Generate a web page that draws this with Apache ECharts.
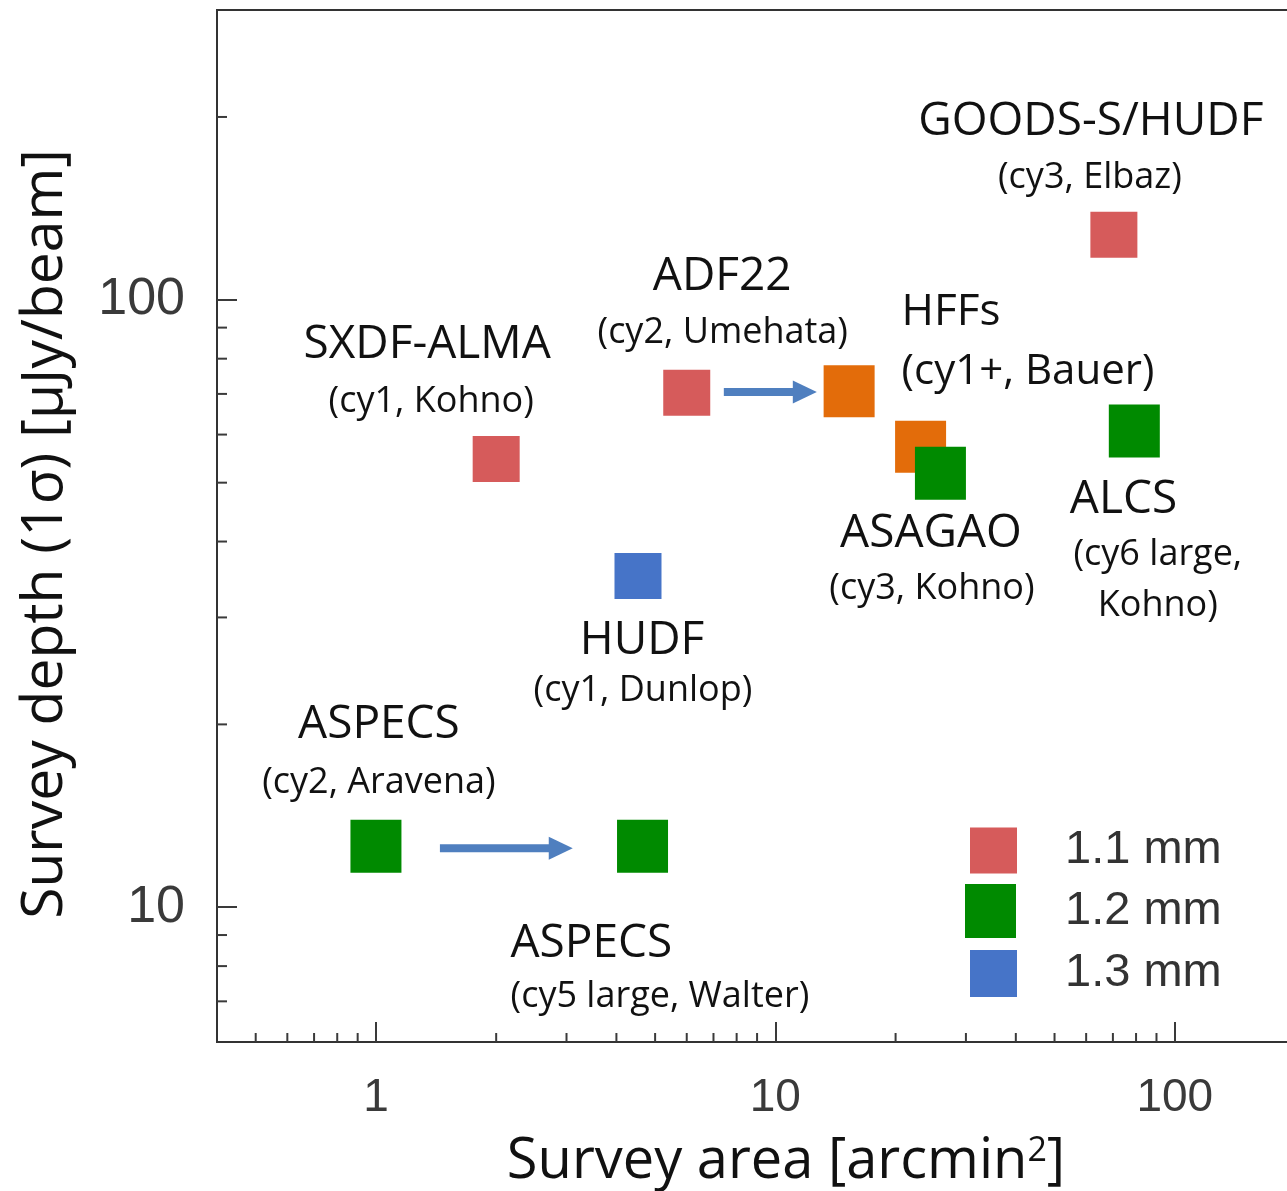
<!DOCTYPE html>
<html>
<head>
<meta charset="utf-8">
<title>ALMA deep surveys: area vs depth</title>
<script src="https://cdn.jsdelivr.net/npm/echarts@6/dist/echarts.min.js"></script>
<style>
  html, body { margin: 0; padding: 0; background: #ffffff; }
  #chart { width: 1287px; height: 1191px; }
</style>
</head>
<body>
<div id="chart"></div>
<script>
// ---- Survey data: area [arcmin^2] and 1-sigma depth [uJy/beam] ----
// 1.1 mm: SXDF-ALMA, ADF22, GOODS-S/HUDF
const mm11Area  = [2.0, 6.0, 70.4];
const mm11Depth = [54.7, 70.3, 128];
// 1.2 mm: ASAGAO, ALCS, ASPECS (cy2), ASPECS (cy5 large)
const mm12Area  = [25.9, 79.2, 1.0, 4.65];
const mm12Depth = [51.8, 60.8, 12.6, 12.6];
// 1.3 mm: HUDF
const mm13Area  = [4.53];
const mm13Depth = [35.1];
// HFFs (cy1+, Bauer)
const hffArea   = [15.3, 23.1];
const hffDepth  = [70.7, 57.3];

// Survey extensions drawn as arrows: area from -> arrow tip, at a depth
const arrowFromArea = [7.43, 1.446];
const arrowToArea   = [12.7, 3.11];
const arrowDepth    = [70.5, 12.51];

// Axis ranges and ticks
const X_MIN = 0.4, X_MAX = 200;
const Y_MIN = 6, Y_MAX = 300;
const xMinorTicks = [0.5, 0.6, 0.7, 0.8, 0.9, 2, 3, 4, 5, 6, 7, 8, 9, 20, 30, 40, 50, 60, 70, 80, 90];
const yMinorTicks = [7, 8, 9, 20, 30, 40, 50, 60, 70, 80, 90, 200];

// Legend entries
const bandNames = ['1.1 mm', '1.2 mm', '1.3 mm'];

// Survey annotations (title + programme), each attached to one marker
const labelTitles = ['SXDF-ALMA', 'ADF22', 'GOODS-S/HUDF', 'HFFs', 'ASAGAO', 'ALCS', 'HUDF', 'ASPECS', 'ASPECS'];
const labelNotes  = ['(cy1, Kohno)', '(cy2, Umehata)', '(cy3, Elbaz)', '(cy1+, Bauer)', '(cy3, Kohno)',
                     '(cy6 large,\nKohno)', '(cy1, Dunlop)', '(cy2, Aravena)', '(cy5 large, Walter)'];
const labelAnchorArea  = [mm11Area[0], mm11Area[1], mm11Area[2], hffArea[0], mm12Area[0], mm12Area[1], mm13Area[0], mm12Area[2], mm12Area[3]];
const labelAnchorDepth = [mm11Depth[0], mm11Depth[1], mm11Depth[2], hffDepth[0], mm12Depth[0], mm12Depth[1], mm13Depth[0], mm12Depth[2], mm12Depth[3]];

// ---- Styling / layout ----
const COLORS = { mm11: '#d65b5b', mm12: '#008a00', mm13: '#4674c8', hff: '#e36c0a', arrow: '#4f7fbf', axis: '#333333', tick: '#3a3a3a' };
const TEXT_FONT = '"Open Sans", "Noto Sans", sans-serif';
const NUM_FONT = '"Liberation Sans", Arial, sans-serif';

// pixel offsets of each annotation from its marker
const LABEL_LAYOUT = [
  { title: [-69, -114],  note: [-65, -57] },
  { title: [35.5, -116], note: [36, -60] },
  { title: [-23, -113],  note: [-24, -57] },
  { title: [52.5, -79],  note: [52.5, -19.5], titleAlign: 'left', noteAlign: 'left', titleSize: 44, noteSize: 42 },
  { title: [-9.5, 60.5], note: [-8.5, 115.5] },
  { title: [-64.5, 69],  note: [23.5, 149.5], titleAlign: 'left' },
  { title: [4, 65],      note: [5, 115] },
  { title: [3, -121],    note: [3, -64] },
  { title: [-132, 98],   note: [-132, 150],  titleAlign: 'left', noteAlign: 'left' }
];

function pairs(xs, ys) { return xs.map((x, i) => [x, ys[i]]); }

const chart = echarts.init(document.getElementById('chart'), null, { renderer: 'canvas' });

const option = {
  animation: false,
  backgroundColor: '#ffffff',
  grid: {
    left: 217, top: 10, width: 1078, height: 1032,
    containLabel: false, outerBoundsMode: 'none',
    show: true, borderColor: COLORS.axis, borderWidth: 2, backgroundColor: 'transparent'
  },
  legend: bandNames.map((name, i) => ({
    data: [name],
    selectedMode: false,
    orient: 'vertical',
    padding: 0,
    left: [970, 965, 970][i],
    top: [827, 884, 950][i],
    itemWidth: [47, 51, 47][i],
    itemHeight: [46, 54, 47][i],
    icon: 'rect',
    textStyle: { fontFamily: NUM_FONT, fontSize: 47, color: '#333333', padding: [0, 0, 0, [43, 44, 43][i]] }
  })),
  xAxis: {
    type: 'log', logBase: 10, min: X_MIN, max: X_MAX,
    name: 'Survey area [arcmin{sup|2}]',
    nameLocation: 'middle', nameGap: 92, nameMoveOverlap: false,
    nameTextStyle: {
      fontFamily: TEXT_FONT, fontSize: 56, color: '#111111', padding: [0, 0, 0, 60],
      rich: { sup: { fontFamily: TEXT_FONT, fontSize: 34, color: '#111111', verticalAlign: 'top', padding: [0, 0, 22, 0] } }
    },
    axisLine: { show: true, onZero: false, lineStyle: { color: COLORS.axis, width: 2 } },
    axisTick: { show: true, inside: true, length: 20, lineStyle: { color: COLORS.tick, width: 2 } },
    axisLabel: { show: true, showMinLabel: false, showMaxLabel: false, margin: 33,
                 fontFamily: NUM_FONT, fontSize: 46, color: '#3a3a3a' },
    splitLine: { show: false }
  },
  yAxis: {
    type: 'log', logBase: 10, min: Y_MIN, max: Y_MAX,
    name: 'Survey depth (1σ) [μJy/beam]',
    nameLocation: 'middle', nameGap: 143, nameMoveOverlap: false,
    nameTextStyle: { fontFamily: TEXT_FONT, fontSize: 57, color: '#111111', padding: [0, 16, 0, 0] },
    axisLine: { show: true, onZero: false, lineStyle: { color: COLORS.axis, width: 2 } },
    axisTick: { show: true, inside: true, length: 20, lineStyle: { color: COLORS.tick, width: 2 } },
    axisLabel: { show: true, showMinLabel: false, showMaxLabel: false, margin: 32,
                 fontFamily: NUM_FONT, fontSize: 52, color: '#3a3a3a' },
    splitLine: { show: false }
  },
  series: [
    // minor ticks on the bottom axis
    {
      type: 'custom', name: 'x minor ticks', silent: true, z: 3,
      data: xMinorTicks.map(v => [v, Y_MIN]),
      renderItem: (params, api) => {
        const p = api.coord([api.value(0), api.value(1)]);
        return { type: 'line', shape: { x1: p[0], y1: p[1], x2: p[0], y2: p[1] - 9 },
                 style: { stroke: COLORS.tick, lineWidth: 2 } };
      }
    },
    // minor ticks on the left axis
    {
      type: 'custom', name: 'y minor ticks', silent: true, z: 3,
      data: yMinorTicks.map(v => [X_MIN, v]),
      renderItem: (params, api) => {
        const p = api.coord([api.value(0), api.value(1)]);
        return { type: 'line', shape: { x1: p[0], y1: p[1], x2: p[0] + 10, y2: p[1] },
                 style: { stroke: COLORS.tick, lineWidth: 2 } };
      }
    },
    {
      type: 'scatter', name: 'HFFs', symbol: 'rect', symbolSize: [51, 52],
      itemStyle: { color: COLORS.hff, opacity: 1 }, z: 4,
      data: pairs(hffArea, hffDepth)
    },
    {
      type: 'scatter', name: bandNames[0], symbol: 'rect', symbolSize: [47, 46],
      itemStyle: { color: COLORS.mm11, opacity: 1 }, z: 5,
      data: pairs(mm11Area, mm11Depth)
    },
    {
      type: 'scatter', name: bandNames[1], symbol: 'rect', symbolSize: [51, 53],
      itemStyle: { color: COLORS.mm12, opacity: 1 }, z: 5,
      data: pairs(mm12Area, mm12Depth)
    },
    {
      type: 'scatter', name: bandNames[2], symbol: 'rect', symbolSize: [47, 46],
      itemStyle: { color: COLORS.mm13, opacity: 1 }, z: 5,
      data: pairs(mm13Area, mm13Depth)
    },
    // arrows from one survey to its extension
    {
      type: 'custom', name: 'arrows', silent: true, z: 6,
      data: arrowFromArea.map((a, i) => [a, arrowToArea[i], arrowDepth[i]]),
      renderItem: (params, api) => {
        const p0 = api.coord([api.value(0), api.value(2)]);
        const p1 = api.coord([api.value(1), api.value(2)]);
        const headLen = 24, headHalf = 11.5;
        return {
          type: 'group',
          children: [
            { type: 'line', shape: { x1: p0[0], y1: p0[1], x2: p1[0] - headLen + 2, y2: p1[1] },
              style: { stroke: COLORS.arrow, lineWidth: 8 } },
            { type: 'polygon', shape: { points: [[p1[0] - headLen, p1[1] - headHalf], [p1[0], p1[1]], [p1[0] - headLen, p1[1] + headHalf]] },
              style: { fill: COLORS.arrow } }
          ]
        };
      }
    },
    // survey annotations
    {
      type: 'custom', name: 'annotations', silent: true, z: 7,
      data: labelAnchorArea.map((a, i) => [a, labelAnchorDepth[i]]),
      renderItem: (params, api) => {
        const i = params.dataIndex;
        const lay = LABEL_LAYOUT[i];
        const p = api.coord([api.value(0), api.value(1)]);
        return {
          type: 'group',
          children: [
            { type: 'text', x: p[0] + lay.title[0], y: p[1] + lay.title[1],
              style: { text: labelTitles[i], fontFamily: TEXT_FONT, fontSize: lay.titleSize || 46, fill: '#111111',
                       align: lay.titleAlign || 'center', verticalAlign: 'middle' } },
            { type: 'text', x: p[0] + lay.note[0], y: p[1] + lay.note[1],
              style: { text: labelNotes[i], fontFamily: TEXT_FONT, fontSize: lay.noteSize || 36, fill: '#111111',
                       align: lay.noteAlign || 'center', verticalAlign: 'middle', lineHeight: 51 } }
          ]
        };
      }
    }
  ]
};

chart.setOption(option);
</script>
</body>
</html>
